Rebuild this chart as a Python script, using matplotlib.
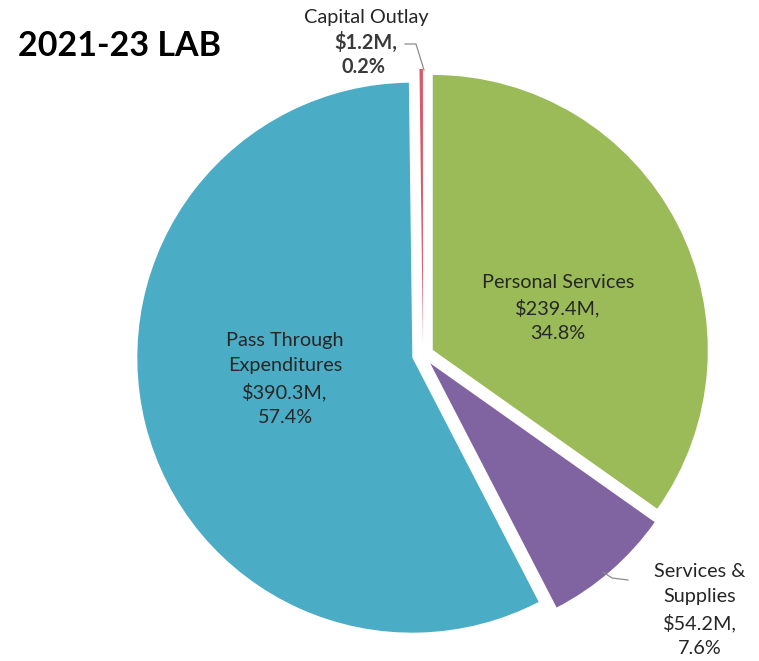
import matplotlib
matplotlib.use("Agg")
import matplotlib.pyplot as plt
from matplotlib import font_manager

names = ["Personal Services", "Services &\nSupplies", "Pass Through\nExpenditures", "Capital Outlay"]
amounts = [239.4, 54.2, 390.3, 1.2]   # $M
shares = [34.8, 7.6, 57.4, 0.2]       # percent of total
colors = ["#9BBB59", "#8064A2", "#4BACC6", "#D9596A"]

installed = {f.name for f in font_manager.fontManager.ttflist}
body_font = "Lato" if "Lato" in installed else "DejaVu Sans"

W, H = 759, 661
fig = plt.figure(figsize=(W / 100, H / 100), dpi=100)
ax = fig.add_axes([0, 0, 1, 1])

ax.pie(shares, colors=colors, startangle=90, counterclock=False,
       center=(423, H - 355), radius=275, explode=[11] * len(shares),
       wedgeprops=dict(linewidth=0), frame=False)
ax.set_xlim(0, W)
ax.set_ylim(0, H)
ax.set_aspect("equal")
ax.axis("off")

txt = dict(family=body_font, fontsize=14.3, color="#262626", ha="center",
           va="center", linespacing=1.55)

def label(i):
    return f"{names[i]}\n${amounts[i]}M,\n{shares[i]}%"

ax.text(558, H - 308, label(0), **txt)
ax.text(285, H - 379, label(2), **txt)
ax.text(700, H - 610, label(1), **txt)

# small slice: name on top, value lines in bold with a leader to the wedge
ax.text(366, H - 17, names[3], **txt)
ax.text(366, H - 42, f"${amounts[3]}M,", **{**txt, "fontweight": "bold", "color": "#3a3a3a"})
ax.text(363, H - 67, f"{shares[3]}%", **{**txt, "fontweight": "bold", "color": "#3a3a3a"})
ax.plot([405, 416, 424], [H - 44, H - 44, H - 70], color="#8c8c8c", lw=0.9)

ax.plot([603, 612, 628], [H - 572, H - 578, H - 580], color="#8c8c8c", lw=0.9)

ax.text(18, H - 46, "2021-23 LAB", family=body_font, fontweight="bold",
        fontsize=24.5, color="black", ha="left", va="center")

fig.savefig("out.png", dpi=100)
